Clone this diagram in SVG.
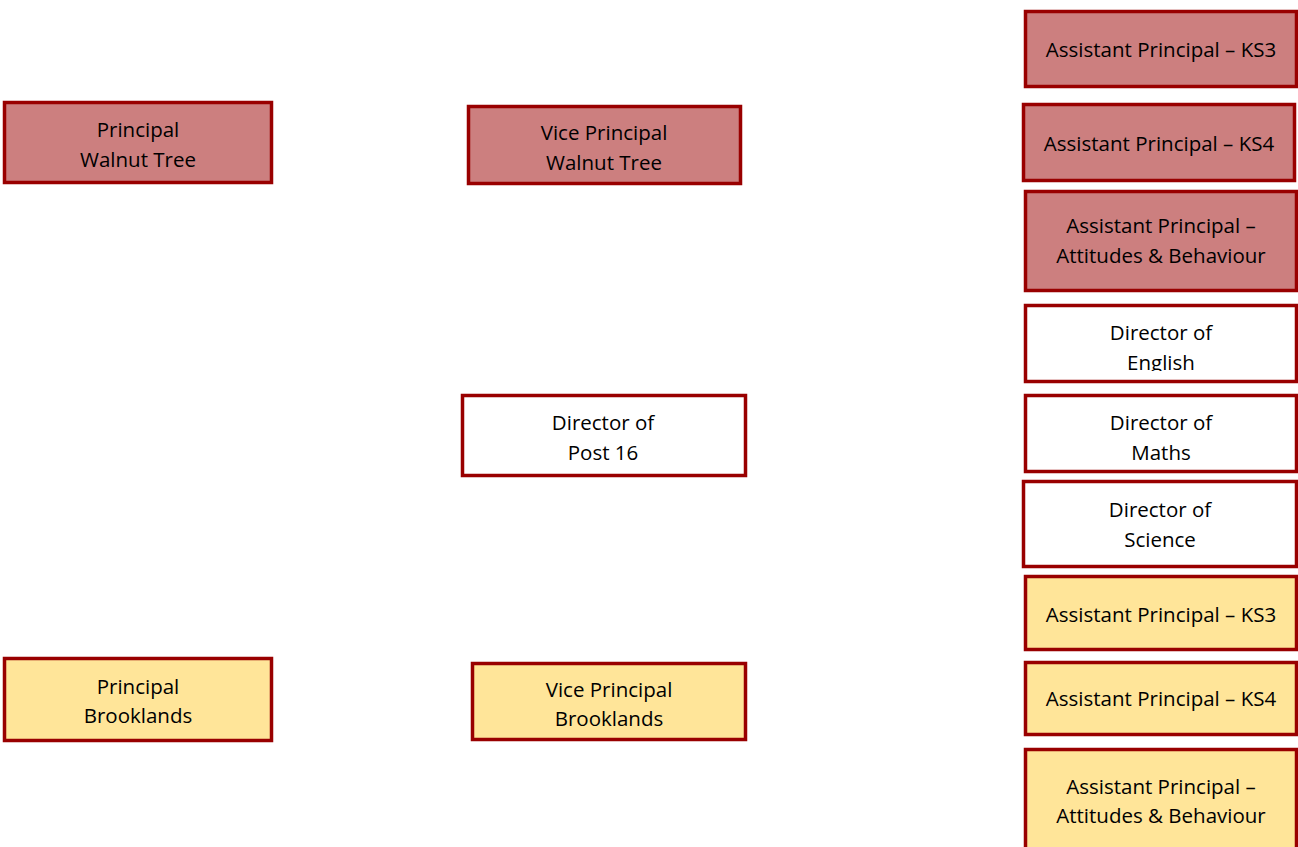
<svg xmlns="http://www.w3.org/2000/svg" width="1298" height="847" viewBox="0 0 1298 847">
<style>
rect.box{stroke:#990000;stroke-width:3.5}
.red{fill:#CC7F7F}
.yel{fill:#FFE599}
.wht{fill:#FFFFFF}
text{font-family:"Open Sans","Noto Sans",sans-serif;font-size:20.5px;fill:#000;text-anchor:middle}
</style>
<defs>
<clipPath id="clipEng"><rect x="1027" y="307" width="268" height="64"/></clipPath>
</defs>
<rect width="1298" height="847" fill="#FFFFFF"/>
<g id="connectors"></g>
<g id="principal-wt"><rect class="box red" x="4.5" y="102.5" width="267" height="80"/><text x="138" y="137">Principal</text><text x="138" y="167">Walnut Tree</text></g>
<g id="vp-wt"><rect class="box red" x="468.5" y="106.5" width="272" height="77"/><text x="604" y="140">Vice Principal</text><text x="604" y="170">Walnut Tree</text></g>
<g id="dir-post16"><rect class="box wht" x="462.5" y="395.5" width="283" height="80"/><text x="603" y="430">Director of</text><text x="603" y="460">Post 16</text></g>
<g id="ap-ks3-wt"><rect class="box red" x="1025.5" y="11.5" width="271" height="75"/><text x="1161" y="57">Assistant Principal – KS3</text></g>
<g id="ap-ks4-wt"><rect class="box red" x="1023.5" y="104.5" width="271" height="76"/><text x="1159" y="151">Assistant Principal – KS4</text></g>
<g id="ap-ab-wt"><rect class="box red" x="1025.5" y="191.5" width="271" height="99"/><text x="1161" y="233">Assistant Principal –</text><text x="1161" y="263">Attitudes &amp; Behaviour</text></g>
<g id="dir-english"><rect class="box wht" x="1025.5" y="305.5" width="271" height="76"/><g clip-path="url(#clipEng)"><text x="1161" y="340">Director of</text><text x="1161" y="370">English</text></g></g>
<g id="dir-maths"><rect class="box wht" x="1025.5" y="395.5" width="271" height="76"/><text x="1161" y="430">Director of</text><text x="1161" y="460">Maths</text></g>
<g id="dir-science"><rect class="box wht" x="1023.5" y="481.5" width="273" height="85"/><text x="1160" y="517">Director of</text><text x="1160" y="547">Science</text></g>
<g id="ap-ks3-br"><rect class="box yel" x="1025.5" y="576.5" width="271" height="73"/><text x="1161" y="622">Assistant Principal – KS3</text></g>
<g id="ap-ks4-br"><rect class="box yel" x="1025.5" y="662.5" width="271" height="72"/><text x="1161" y="706">Assistant Principal – KS4</text></g>
<g id="ap-ab-br"><rect class="box yel" x="1025.5" y="749.5" width="271" height="110"/><text x="1161" y="794">Assistant Principal –</text><text x="1161" y="823">Attitudes &amp; Behaviour</text></g>
<g id="principal-br"><rect class="box yel" x="4.5" y="658.5" width="267" height="82"/><text x="138" y="694">Principal</text><text x="138" y="723">Brooklands</text></g>
<g id="vp-br"><rect class="box yel" x="472.5" y="663.5" width="273" height="76"/><text x="609" y="697">Vice Principal</text><text x="609" y="726">Brooklands</text></g>
</svg>
